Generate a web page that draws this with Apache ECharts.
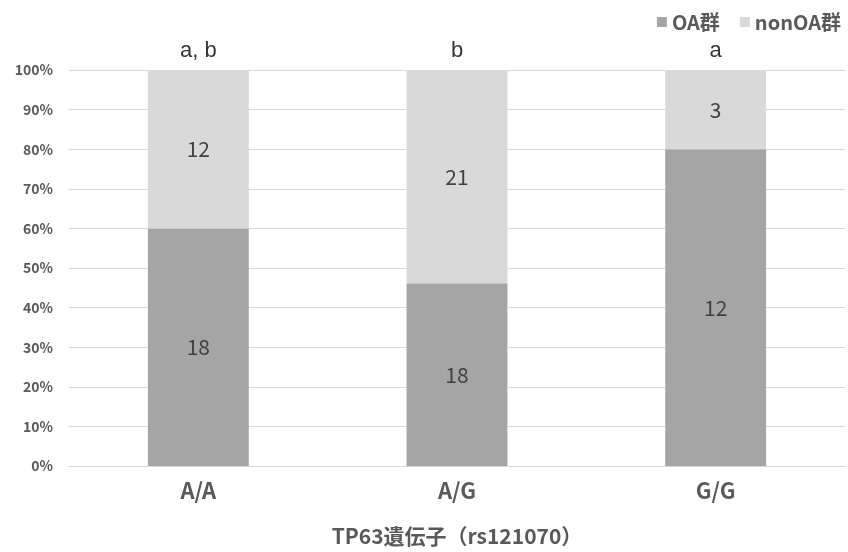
<!DOCTYPE html>
<html><head><meta charset="utf-8">
<script src="https://cdn.jsdelivr.net/npm/echarts@6/dist/echarts.min.js"></script>
<style>html,body{margin:0;padding:0;background:#fff}#c{width:848px;height:552px}</style>
</head><body><div id="c"></div>
<script>
const categories = ['A/A', 'A/G', 'G/G'];
const oaCounts = [18, 18, 12];
const nonOaCounts = [12, 21, 3];
const sigLabels = ['a, b', 'b', 'a'];

const totals = oaCounts.map((v, i) => v + nonOaCounts[i]);
const oaPct = oaCounts.map((v, i) => v / totals[i] * 100);
const nonPct = nonOaCounts.map((v, i) => v / totals[i] * 100);

const font = '"Noto Sans CJK JP", "Noto Sans", sans-serif';
const chart = echarts.init(document.getElementById('c'));
chart.setOption({
  animation: false,
  grid: { left: 69, right: 3, top: 70, bottom: 86, containLabel: false, outerBoundsMode: 'none' },
  legend: {
    right: 2, top: 7, itemWidth: 10, itemHeight: 10, itemGap: 20,
    icon: 'rect',
    textStyle: { fontFamily: font, fontSize: 20, fontWeight: 'bold', color: '#595959' },
    data: ['OA群', 'nonOA群']
  },
  xAxis: {
    type: 'category', data: categories,
    axisLine: { lineStyle: { color: '#D9D9D9' } },
    axisTick: { show: false },
    axisLabel: { fontFamily: font, fontSize: 22, fontWeight: 'bold', color: '#595959', margin: 14 },
    name: 'TP63遺伝子（rs121070）', nameLocation: 'middle', nameGap: 60,
    nameTextStyle: { fontFamily: font, fontSize: 21, fontWeight: 'bold', color: '#595959' }
  },
  yAxis: {
    type: 'value', min: 0, max: 100, interval: 10,
    axisLine: { show: false }, axisTick: { show: false },
    splitLine: { lineStyle: { color: '#D9D9D9' } },
    axisLabel: { formatter: '{value}%', fontFamily: font, fontSize: 14, fontWeight: 'bold', color: '#595959', margin: 16 }
  },
  series: [
    {
      name: 'OA群', type: 'bar', stack: 's', barWidth: '39%', data: oaPct,
      itemStyle: { color: '#A5A5A5' },
      label: { show: true, position: 'inside', formatter: p => oaCounts[p.dataIndex],
        fontFamily: font, fontSize: 21, color: '#404040' }
    },
    {
      name: 'nonOA群', type: 'bar', stack: 's', data: nonPct,
      itemStyle: { color: '#D9D9D9' },
      label: { show: true, position: 'inside', formatter: p => nonOaCounts[p.dataIndex],
        fontFamily: font, fontSize: 21, color: '#404040' }
    },
    {
      name: 'sig', type: 'scatter', data: categories.map(() => 100), symbolSize: 0,
      silent: true,
      label: { show: true, position: 'top', distance: 8, formatter: p => sigLabels[p.dataIndex],
        fontFamily: '"Liberation Sans", Arial, sans-serif', fontSize: 22, color: '#000' }
    }
  ]
});
</script></body></html>
